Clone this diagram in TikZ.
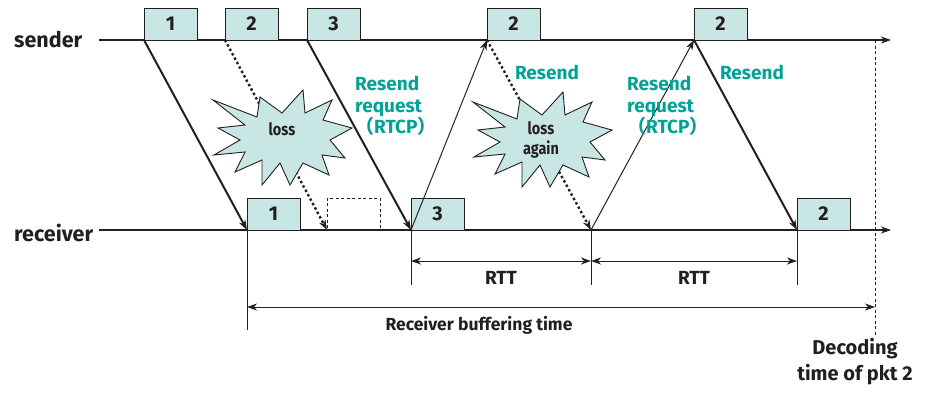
\documentclass[tikz,border=0pt]{standalone}
\usepackage{fontspec}
\setmainfont{Fira Sans}
\newfontfamily\narrowsans[FakeStretch=0.85]{Fira Sans}
\newfontfamily\cjk{Noto Sans CJK SC}
\usetikzlibrary{arrows.meta}
\definecolor{ink}{RGB}{35,31,32}
\definecolor{pktfill}{RGB}{200,230,227}
\definecolor{note}{RGB}{0,163,150}
\begin{document}
\begin{tikzpicture}[x=1pt,y=-1pt,
  >={Stealth[length=10pt,width=7pt,inset=3pt]},
  pkt/.style={draw=ink,line width=0.9pt,fill=pktfill,minimum width=53pt,
    minimum height=32pt,inner sep=0pt,outer sep=0pt,anchor=south west,
    text=ink,font=\bfseries\fontsize{20}{20}\selectfont},
  ghost/.style={pkt,fill=none,draw=ink,line width=0.8pt,dash pattern=on 3pt off 2.5pt},
  axis/.style={draw=ink,line width=1.6pt,->},
  axislabel/.style={anchor=west,inner sep=0pt,text=ink,font=\bfseries\fontsize{21.5}{21.5}\selectfont},
  send/.style={draw=ink,line width=2pt,->},
  request/.style={draw=ink,line width=1pt,->},
  lost/.style={draw=ink,line width=2.4pt,dash pattern=on 2.4pt off 2.6pt,->},
  note/.style={text=note,inner sep=0pt,font=\bfseries\fontsize{19}{21.5}\selectfont},
  tick/.style={draw=ink,line width=0.8pt},
  span/.style={draw=ink,line width=1pt,<->},
  caption/.style={text=ink,inner sep=0pt,align=center,font=\bfseries\fontsize{19}{26}\selectfont},
  burstlabel/.style={text=ink,inner sep=0pt,align=center,font=\narrowsans\bfseries\fontsize{17}{20}\selectfont},
  lossstar/.pic={
    \filldraw[fill=pktfill,draw=ink,line width=0.9pt]
      (-70,-38) -- (-26,-21) -- (-23,-41) -- (-1,-25) -- (20,-48) -- (22,-25)
      -- (49,-38) -- (40,-18) -- (69,-10) -- (47,2) -- (62,20) -- (39,17)
      -- (46,37) -- (20,25) -- (7,47) -- (-3,25) -- (-21,47) -- (-21,22)
      -- (-48,34) -- (-38,14) -- (-69,17) -- (-43,2) -- (-65,-10) -- (-38,-13)
      -- cycle;
  }]
\useasboundingbox (0,0) rectangle (929,392);

% time axes
\node[axislabel] (snd) at (14,40) {sender};
\node[axislabel] (rcv) at (14,233) {receiver};
\coordinate (s0) at (99,40);
\coordinate (s9) at (891,40);
\coordinate (r0) at (99,230);
\coordinate (r9) at (891,230);
\draw[axis] (s0) -- (s9);
\draw[axis,line width=1.1pt] (r0) -- (r9);

% packets on the sender side
\node[pkt] (s1) at (144,40) {1};
\node[pkt] (s2) at (225,40) {2};
\node[pkt] (s3) at (307,40) {3};
\node[pkt] (s2b) at (487,40) {2};
\node[pkt] (s2c) at (694,40) {2};

% packets on the receiver side
\node[pkt] (r1) at (247,230) {1};
\node[ghost] (rg) at (327,230) {};
\node[pkt] (r3) at (411,230) {3};
\node[pkt] (r2) at (797,230) {2};
\coordinate (rx) at (591,230);
\coordinate (dec) at (875,40);

% lost transmissions (drawn first, the bursts cover them)
\draw[lost] (s2.south west) -- (rg.south west);
\draw[lost] (s2b.south west) -- (rx);

% loss bursts
\pic at (283,138) {lossstar};
\node[burstlabel] (loss1) at (282,129) {loss};
\pic at (543,140) {lossstar};
\node[burstlabel] (loss2) at (541,140) {loss\\again};

% delivered packets and requests
\draw[send] (s1.south west) -- (r1.south west);
\draw[send] (s3.south west) -- (r3.south west);
\draw[request] (r3.south west) -- (s2b.south west);
\draw[request] (rx) -- (s2c.south west);
\draw[send] (s2c.south west) -- (r2.south west);

% annotations
\node[note,align=left,anchor=west] (req1) at (355,106)
  {Resend\\request\\{\cjk （}RTCP{\cjk ）}};
\node[note,align=left,anchor=west] (req2) at (627,106)
  {Resend\\request\\{\cjk （}RTCP{\cjk ）}};
\node[note] (rs1) at (547,72) {Resend};
\node[note] (rs2) at (752,72) {Resend};

% timing marks
\draw[tick] (r1.south west) -- (r1.south west |- 0,330);
\draw[tick] (r3.south west) -- (r3.south west |- 0,285);
\draw[tick] (rx) -- (rx |- 0,285);
\draw[tick] (r2.south west) -- (r2.south west |- 0,285);
\draw[tick,dash pattern=on 3pt off 2.5pt] (dec) -- (dec |- 0,336);

\draw[span] (r3.south west |- 0,261) -- (rx |- 0,261);
\draw[span] (rx |- 0,261) -- (r2.south west |- 0,261);
\draw[span] (r1.south west |- 0,307) -- (dec |- 0,307);

\node[caption] (rtt1) at (501,278) {RTT};
\node[caption] (rtt2) at (694,278) {RTT};
\node[caption,font=\bfseries\fontsize{17.5}{26}\selectfont] (buf) at (479,325)
  {Receiver buffering time};
\node[caption,font=\bfseries\fontsize{20}{26}\selectfont] (dect) at (855,362) {Decoding\\time of pkt 2};
\end{tikzpicture}
\end{document}
